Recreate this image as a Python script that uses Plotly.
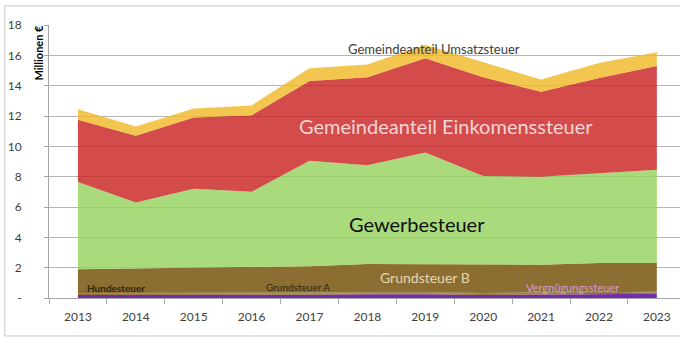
import plotly.graph_objects as go

# Gemeindesteuern 2013-2023, Mio. €
years = [2013, 2014, 2015, 2016, 2017, 2018, 2019, 2020, 2021, 2022, 2023]
vergnuegungssteuer = [0.20, 0.20, 0.20, 0.20, 0.22, 0.25, 0.25, 0.20, 0.22, 0.25, 0.28]
hundesteuer = [0.08, 0.08, 0.08, 0.08, 0.08, 0.08, 0.08, 0.08, 0.08, 0.08, 0.08]
grundsteuer_a = [0.05, 0.05, 0.05, 0.05, 0.05, 0.05, 0.05, 0.05, 0.05, 0.05, 0.05]
grundsteuer_b = [1.57, 1.62, 1.67, 1.72, 1.75, 1.87, 1.87, 1.92, 1.85, 1.92, 1.89]
gewerbesteuer = [5.75, 4.35, 5.20, 4.95, 6.95, 6.50, 7.35, 5.80, 5.80, 5.95, 6.15]
einkommensteuer = [4.10, 4.40, 4.70, 5.05, 5.25, 5.80, 6.20, 6.50, 5.60, 6.25, 6.85]
umsatzsteuer = [0.70, 0.60, 0.60, 0.65, 0.85, 0.85, 0.90, 1.00, 0.80, 1.00, 0.90]

y_ticks = [0, 2, 4, 6, 8, 10, 12, 14, 16, 18]
y_tick_text = ["-", "2", "4", "6", "8", "10", "12", "14", "16", "18"]

brown = "rgb(140,110,50)"
series = [
    ("Vergnügungssteuer", vergnuegungssteuer, "rgb(115,45,170)"),
    ("Hundesteuer", hundesteuer, brown),
    ("Grundsteuer A", grundsteuer_a, brown),
    ("Grundsteuer B", grundsteuer_b, brown),
    ("Gewerbesteuer", gewerbesteuer, "rgba(150,210,95,0.82)"),
    ("Gemeindeanteil Einkomenssteuer", einkommensteuer, "rgba(200,30,30,0.80)"),
    ("Gemeindeanteil Umsatzsteuer", umsatzsteuer, "rgba(240,185,40,0.82)"),
]

fig = go.Figure()
for name, vals, col in series:
    fig.add_trace(go.Scatter(
        x=years, y=vals, name=name, mode="lines", stackgroup="one",
        line=dict(width=0, color=col), fillcolor=col, hoverinfo="x+y+name",
    ))

font_family = "Lato, 'Open Sans', sans-serif"

# in-chart series labels
labels = [
    ("Gemeindeanteil Umsatzsteuer", 2019.15, 16.45, 13, "#404040"),
    ("Gemeindeanteil Einkomenssteuer", 2019.35, 11.35, 20, "#f3d6d6"),
    ("Gewerbesteuer", 2018.85, 4.9, 20, "#111111"),
    ("Grundsteuer B", 2019.0, 1.38, 14, "#e6d8ae"),
    ("<b>Hundesteuer</b>", 2013.65, 0.68, 10, "#2b2610"),
    ("Grundsteuer A", 2016.8, 0.72, 10, "#2b2610"),
    ("Vergnügungssteuer", 2021.55, 0.72, 11, "#d99ac8"),
]
for text, xv, yv, size, color in labels:
    fig.add_annotation(x=xv, y=yv, text=text, showarrow=False,
                       font=dict(size=size, color=color, family=font_family),
                       xanchor="center", yanchor="middle")

fig.add_annotation(xref="paper", yref="paper", x=-0.017, y=1.01, text="<b>Millionen €</b>",
                   textangle=-90, showarrow=False, xanchor="center", yanchor="top",
                   font=dict(size=11, color="#000000", family=font_family))

# outer frame
fig.add_shape(type="rect", xref="paper", yref="paper",
              x0=-0.07, x1=1.05, y0=-0.139, y1=1.07,
              line=dict(color="#c8c8c8", width=1), fillcolor="rgba(0,0,0,0)", layer="below")

fig.update_layout(
    width=680, height=338,
    margin=dict(l=49, r=0, t=25, b=40),
    paper_bgcolor="white", plot_bgcolor="white",
    showlegend=False,
    font=dict(family=font_family, size=12, color="#404040"),
    xaxis=dict(
        range=[2012.5, 2023.4], tickmode="array", tickvals=years,
        ticktext=[str(y) for y in years], ticks="", showgrid=False,
        showline=True, linecolor="#a6a6a6", linewidth=1,
        tickfont=dict(size=12, color="#404040"), ticklabelstandoff=8,
        minor=dict(tick0=2012.5, dtick=1, ticks="outside", ticklen=5,
                   tickcolor="#a6a6a6", showgrid=False),
        zeroline=False, fixedrange=True,
    ),
    yaxis=dict(
        range=[0, 18], tickmode="array", tickvals=y_ticks, ticktext=y_tick_text,
        showgrid=True, gridcolor="#b5b5b5", gridwidth=1,
        showline=True, linecolor="#a6a6a6", linewidth=1,
        ticks="outside", ticklen=4, tickcolor="#a6a6a6",
        tickfont=dict(size=12, color="#404040"), ticklabelstandoff=20,
        zeroline=False, fixedrange=True,
    ),
)

fig.write_html("out.html")
